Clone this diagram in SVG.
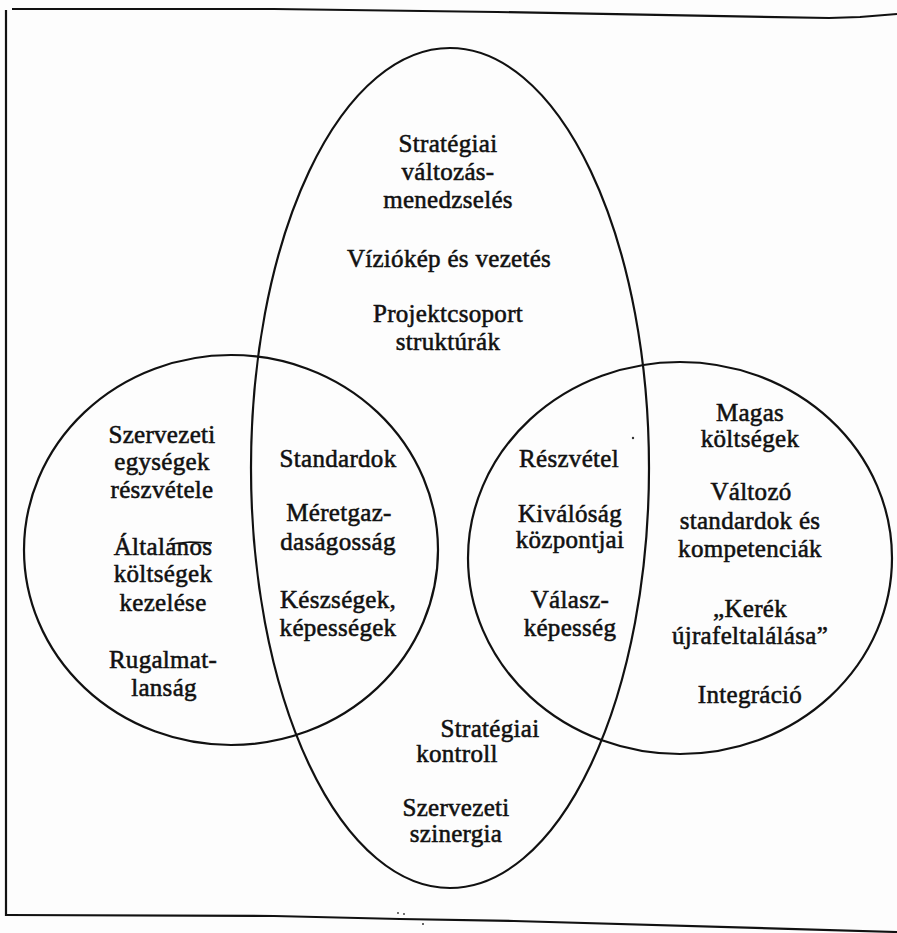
<svg xmlns="http://www.w3.org/2000/svg" width="897" height="933" viewBox="0 0 897 933">
<style>
.frame{fill:none;stroke:#111;stroke-width:2.2;stroke-linejoin:round}
.shape{fill:none;stroke:#111;stroke-width:2.2}
text{font-family:"Liberation Serif","Times New Roman",serif;font-size:25px;fill:#111;stroke:#111;stroke-width:0.55;text-anchor:middle;letter-spacing:0.3px}
</style>
<rect width="897" height="933" fill="#fdfdfd"/>
<g id="frame">
<polyline class="frame" points="12,9 274,9 497,12 829,18 860,17 897,14"/>
<polyline class="frame" points="6,10 6,916"/>
<polyline class="frame" points="6,915 274,916 400,919 514,921 897,932"/>
</g>
<g id="top-ellipse">
<ellipse class="shape" cx="450" cy="468" rx="199" ry="420"/>
<text x="448" y="152">Stratégiai</text>
<text x="448" y="180">változás-</text>
<text x="448" y="208">menedzselés</text>
<text x="449" y="267">Víziókép és vezetés</text>
<text x="448" y="322">Projektcsoport</text>
<text x="448" y="350">struktúrák</text>
</g>
<g id="left-circle">
<ellipse class="shape" cx="231" cy="550" rx="207" ry="195"/>
<text x="162" y="443">Szervezeti</text>
<text x="162" y="470">egységek</text>
<text x="162" y="498">részvétele</text>
<text x="163" y="555">Általános</text>
<text x="163" y="582">költségek</text>
<text x="163" y="611">kezelése</text>
<text x="163" y="668">Rugalmat-</text>
<text x="164" y="696">lanság</text>
<path d="M171,544 L190,542 L212,543" fill="none" stroke="#111" stroke-width="1.6"/>
</g>
<g id="right-circle">
<ellipse class="shape" cx="680" cy="558" rx="212" ry="196"/>
<text x="750" y="421">Magas</text>
<text x="750" y="447">költségek</text>
<text x="751" y="500">Változó</text>
<text x="750" y="529">standardok és</text>
<text x="750" y="557">kompetenciák</text>
<text x="750" y="617">„Kerék</text>
<text x="750" y="644">újrafeltalálása”</text>
<text x="750" y="703">Integráció</text>
</g>
<g id="left-overlap">
<text x="338" y="467">Standardok</text>
<text x="339" y="521">Méretgaz-</text>
<text x="338" y="550">daságosság</text>
<text x="338" y="608">Készségek,</text>
<text x="338" y="636">képességek</text>
</g>
<g id="right-overlap">
<text x="569" y="467">Részvétel</text>
<text x="570" y="522">Kiválóság</text>
<text x="570" y="548">központjai</text>
<text x="570" y="608">Válasz-</text>
<text x="570" y="636">képesség</text>
</g>
<g id="bottom-region">
<text x="490" y="737">Stratégiai</text>
<text x="457" y="762">kontroll</text>
<text x="456" y="816">Szervezeti</text>
<text x="456" y="842">szinergia</text>
</g>
<g id="specks" fill="#333">
<circle cx="633" cy="438" r="1.2"/>
<circle cx="398" cy="913" r="0.9"/>
<circle cx="404" cy="914" r="0.9"/>
<circle cx="423" cy="924" r="1"/>
</g>
<g id="connectors"></g>
</svg>
